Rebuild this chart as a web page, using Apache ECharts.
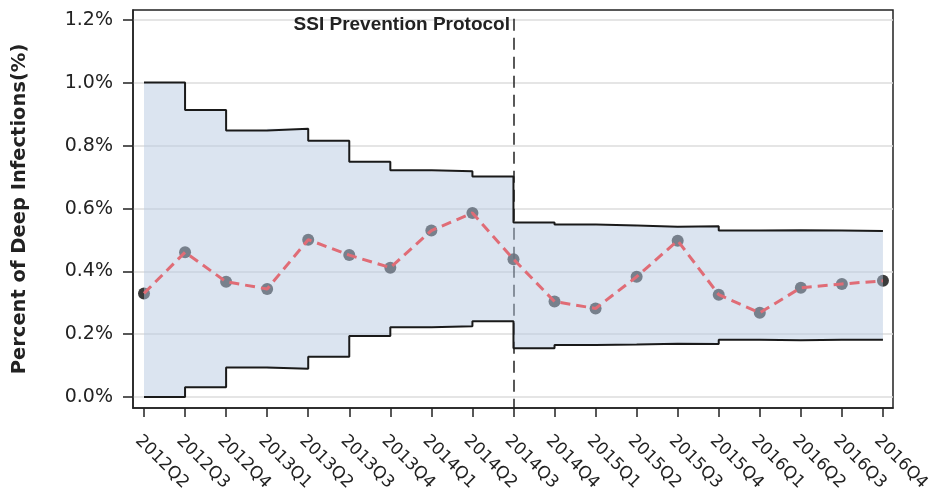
<!DOCTYPE html>
<html><head><meta charset="utf-8">
<script src="https://cdn.jsdelivr.net/npm/echarts@6/dist/echarts.min.js"></script>
<style>html,body{margin:0;padding:0;background:#fff}#c{width:932px;height:493px}</style>
</head><body><div id="c"></div>
<script>
const categories = ['2012Q2','2012Q3','2012Q4','2013Q1','2013Q2','2013Q3','2013Q4','2014Q1','2014Q2','2014Q3','2014Q4','2015Q1','2015Q2','2015Q3','2015Q4','2016Q1','2016Q2','2016Q3','2016Q4'];
const rate = [0.330,0.461,0.367,0.344,0.501,0.452,0.412,0.530,0.586,0.439,0.304,0.282,0.383,0.498,0.326,0.268,0.348,0.360,0.370];
const ucl  = [1.002,0.914,0.849,0.854,0.816,0.749,0.722,0.719,0.702,0.556,0.549,0.546,0.542,0.544,0.530,0.531,0.530,0.529,0.529];
const lcl  = [0.000,0.031,0.094,0.090,0.128,0.194,0.222,0.225,0.241,0.155,0.166,0.167,0.170,0.169,0.182,0.181,0.182,0.182,0.182];
const yTicks = [0, 0.2, 0.4, 0.6, 0.8, 1.0, 1.2];
const interventionIndex = 9;
const interventionLabel = 'SSI Prevention Protocol';
const yAxisTitle = 'Percent of Deep Infections(%)';

const idx = categories.map((c, i) => i);
const pts = (arr) => arr.map((v, i) => [i, v]);

// step-end outline of a limit series, in data space
function stepPoints(arr) {
  const out = [];
  for (let i = 0; i < arr.length; i++) {
    if (i > 0) out.push([i, arr[i - 1]]);
    out.push([i, arr[i]]);
  }
  return out;
}

const Y_MIN = -0.035, Y_MAX = 1.2325;

const chart = echarts.init(document.getElementById('c'), null, {renderer: 'canvas'});
chart.setOption({
  animation: false,
  backgroundColor: '#ffffff',
  title: {
    text: interventionLabel,
    right: 417, top: 10, z: 20,
    textStyle: {fontFamily: 'Liberation Sans', fontWeight: 'bold', fontSize: 19, color: '#222'}
  },
  grid: {left: 133, right: 39, top: 10, bottom: 85, outerBoundsMode: 'none', containLabel: false,
         show: true, borderColor: '#222', borderWidth: 1.5, backgroundColor: 'transparent'},
  xAxis: {
    type: 'value', min: -0.268, max: 18.245,
    axisLine: {show: true, onZero: false, lineStyle: {color: '#222', width: 1.5}},
    axisTick: {show: true, customValues: idx, length: 9, lineStyle: {color: '#222', width: 1.5}},
    axisLabel: {customValues: idx, formatter: v => categories[v], rotate: -45, verticalAlign: 'top', fontSize: 17, fontFamily: 'DejaVu Sans', color: '#222', margin: 24},
    splitLine: {show: false}
  },
  yAxis: {
    type: 'value', min: Y_MIN, max: Y_MAX,
    name: yAxisTitle, nameLocation: 'middle', nameGap: 103,
    nameTextStyle: {fontFamily: 'DejaVu Sans', fontWeight: 'bold', fontSize: 19.5, color: '#222'},
    axisLine: {show: true, onZero: false, lineStyle: {color: '#222', width: 1.5}},
    axisTick: {show: true, customValues: yTicks, length: 10, lineStyle: {color: '#222', width: 1.5}},
    axisLabel: {customValues: yTicks, formatter: v => v.toFixed(1) + '%', fontSize: 19, fontFamily: 'DejaVu Sans', color: '#222', margin: 20},
    splitLine: {show: true, lineStyle: {color: '#dcdcdc', width: 1.5}}
  },
  series: [
    {
      name: 'points', type: 'scatter', z: 3,
      data: pts(rate), symbol: 'circle', symbolSize: 12,
      itemStyle: {color: '#0a0a0a'},
      markLine: {
        silent: true, symbol: 'none', z: 4,
        lineStyle: {color: '#222', type: [12, 7], width: 1.5},
        label: {show: false},
        data: [[{coord: [interventionIndex, 1.205]}, {coord: [interventionIndex, Y_MIN]}]]
      }
    },
    {
      name: 'band', type: 'custom', z: 10, silent: true,
      data: [0],
      renderItem: function (params, api) {
        const upper = stepPoints(ucl);
        const lower = stepPoints(lcl).reverse();
        const poly = upper.concat(lower).map(p => api.coord(p));
        return {
          type: 'polygon',
          shape: {points: poly},
          style: {fill: 'rgba(182,200,224,0.49)', stroke: null}
        };
      }
    },
    {
      name: 'LCL', type: 'line', step: 'end', z: 12,
      data: pts(lcl), showSymbol: false, symbol: 'none',
      lineStyle: {color: '#1a1a1a', width: 2}
    },
    {
      name: 'UCL', type: 'line', step: 'end', z: 12,
      data: pts(ucl), showSymbol: false, symbol: 'none',
      lineStyle: {color: '#1a1a1a', width: 2}
    },
    {
      name: 'rate', type: 'line', z: 11,
      data: pts(rate), showSymbol: false, symbol: 'none',
      lineStyle: {color: '#e06c76', width: 3, type: [10, 6]}
    }
  ]
});
</script>
</body></html>
